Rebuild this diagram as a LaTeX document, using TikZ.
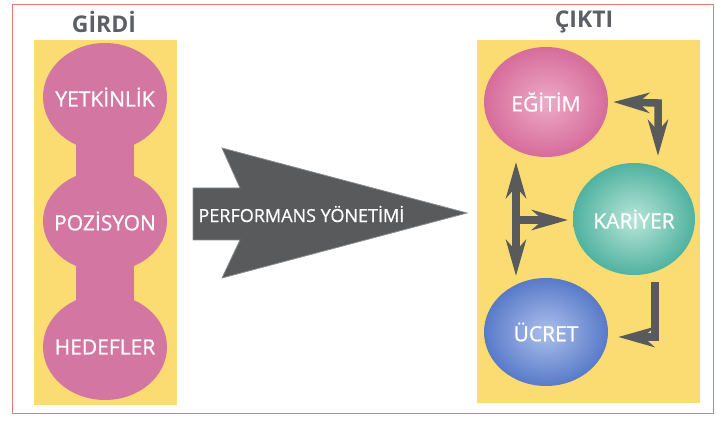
\documentclass[tikz,border=0pt]{standalone}
\usepackage{fontspec}
\setmainfont{Open Sans}
\newfontfamily\lblfont{Open Sans}[FakeBold=0.7]
\usetikzlibrary{shapes.geometric,arrows.meta,calc}
\definecolor{frame}{RGB}{232,120,120}
\definecolor{panel}{RGB}{250,220,115}
\definecolor{blob}{RGB}{212,118,162}
\definecolor{title}{RGB}{92,95,100}
\definecolor{arrowgray}{RGB}{88,90,92}
\definecolor{pinkout}{RGB}{214,108,154}
\definecolor{pinkin}{RGB}{238,170,200}
\definecolor{tealout}{RGB}{80,178,160}
\definecolor{tealin}{RGB}{185,230,216}
\definecolor{blueout}{RGB}{88,122,200}
\definecolor{bluein}{RGB}{172,192,236}
\tikzset{
  lbl/.style={text=white, font=\lblfont\fontsize{21}{21}\selectfont},
  ttl/.style={text=title, font=\fontsize{23}{23}\selectfont\bfseries},
  blobcirc/.style={ellipse, fill=blob, minimum width=124pt, minimum height=108pt, inner sep=0pt},
  sphere/.style={ellipse, minimum width=124pt, minimum height=110pt, inner sep=0pt},
  arr/.style={draw=arrowgray, line width=7.5pt,
    -{Stealth[length=36pt,width=20pt,inset=11pt]}},
  arrb/.style={draw=arrowgray, line width=7.5pt,
    {Stealth[length=36pt,width=20pt,inset=11pt]}-{Stealth[length=36pt,width=20pt,inset=11pt]}},
}
\begin{document}
\begin{tikzpicture}[x=1pt,y=-1pt]
\useasboundingbox (0,0) rectangle (716,422);
\fill[white] (0,0) rectangle (716,422);
\draw[frame, line width=1pt] (12,5) rectangle (713,414);
% panels
\fill[panel] (34,40) rectangle (177,405);
\fill[panel] (477,40) rectangle (700,403);
% titles
\node[ttl] (girdi) at (104,22) {GİRDİ};
\node[ttl] (cikti) at (584,22) {ÇIKTI};
% left blob
\fill[blob] (76,97) rectangle (134,347);
\node[blobcirc] (yet) at (105,97) {};
\node[blobcirc, minimum height=102pt] (poz) at (105,221) {};
\node[blobcirc, minimum height=106pt] (hed) at (105,347) {};
\node[lbl] at (yet) {YETKİNLİK};
\node[lbl] at (poz) {POZİSYON};
\node[lbl] at (hed) {HEDEFLER};
% big arrow
\filldraw[fill=arrowgray, draw=arrowgray!70!white, line width=0.8pt]
  (193,188) -- (240,188) -- (222,148) -- (467,213) -- (222,278) -- (240,240) -- (193,240) -- cycle;
\node[lbl, anchor=west, font=\lblfont\fontsize{18}{18}\selectfont] (pm) at (195,214) {PERFORMANS YÖNETİMİ};
% spheres
\node[sphere, inner color=pinkin, outer color=pinkout] (egitim) at (546,102) {};
\node[sphere, inner color=tealin, outer color=tealout, minimum width=122pt, minimum height=112pt] (kariyer) at (634,219) {};
\node[sphere, inner color=bluein, outer color=blueout, minimum height=108pt] (ucret) at (546,332) {};
\node[lbl] at (egitim) {EĞİTİM};
\node[lbl] at (kariyer) {KARİYER};
\node[lbl] at (ucret) {ÜCRET};
% arrows
\coordinate (a1) at ($(egitim.east)+(5,0)$);
\coordinate (a1c) at (658,103);
\coordinate (a1e) at (658,156);
\draw[arrb] (a1) -- (a1c) -- (a1e);
\coordinate (b1) at (655,282);
\coordinate (b1c) at (655,337);
\coordinate (b1e) at ($(ucret.east)+(10,5)$);
\draw[arr] (b1) -- (b1c) -- (b1e);
\coordinate (v1) at (516,162);
\coordinate (v2) at (516,276);
\draw[arrb] (v1) -- (v2);
\coordinate (h1) at (516,220);
\coordinate (h2) at (568,220);
\draw[arr] (h1) -- (h2);
\end{tikzpicture}
\end{document}
